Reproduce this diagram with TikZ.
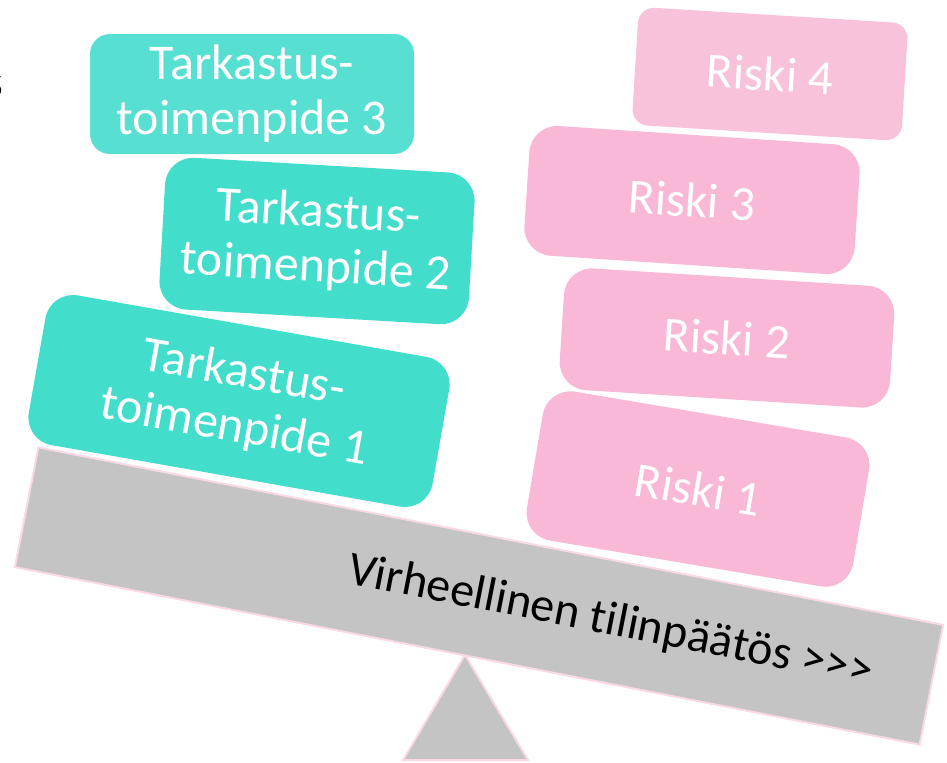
\documentclass[tikz,border=0pt]{standalone}
\usepackage{fontspec}
\setmainfont{Carlito}[Ligatures=NoCommon]
\usetikzlibrary{calc}
\definecolor{tealbox}{HTML}{43DDCC}
\definecolor{tealpale}{HTML}{57E0D1}
\definecolor{riskbox}{HTML}{F9B8D6}
\definecolor{riskpale}{HTML}{F8C2DB}
\definecolor{beamgray}{HTML}{C4C4C4}
\definecolor{beamedge}{HTML}{FAD9E4}

\begin{document}
\begin{tikzpicture}[x=0.5pt, y=-0.5pt,
		measure/.style={fill=tealbox, text=white, rounded corners=14pt, inner sep=0pt, align=center, font=\fontsize{25}{27.5}\selectfont},
		risk/.style={fill=riskbox, text=white, rounded corners=14pt, inner sep=0pt, font=\fontsize{24.5}{27}\selectfont},
		support/.style={fill=beamgray, draw=beamedge, line width=1pt}]
				\useasboundingbox (0,0) rectangle (947,762);
				\draw[support] (465,655) -- (528,760) -- (403,760) -- cycle;
				\node[support, rotate=-11.1, minimum width=461pt, minimum height=61pt, inner sep=0pt] (beam) at (479,596) {};
				\node[rotate=-11.1, font=\fontsize{24}{27}\selectfont, inner sep=0pt] (verdict) at ($(beam.center)!0.29!(beam.east)$) {Virheellinen tilinpäätös >{}>{}>};
				\node[anchor=base east, inner sep=0pt, font=\fontsize{24}{27}\selectfont] (cut) at (4,97) {s};
				\node[measure, fill=tealpale, rounded corners=10pt, minimum width=162pt, minimum height=60pt] (t3) at (252,94) {Tarkastus-\\toimenpide 3};
				\node[measure, rotate=-3.3, minimum width=155pt, minimum height=76pt] (t2) at (317,241) {Tarkastus-\\toimenpide 2};
				\node[measure, rotate=-10, minimum width=205pt, minimum height=76pt] (t1) at (239,401) {Tarkastus-\\toimenpide 1};
				\node[risk, fill=riskpale, rounded corners=8pt, rotate=-3.5, minimum width=135pt, minimum height=59pt] (r4) at (770,74) {Riski 4};
				\node[risk, rotate=-3.8, minimum width=165.5pt, minimum height=65pt] (r3) at (692,200) {Riski 3};
				\node[risk, rotate=-3.6, minimum width=165.5pt, minimum height=61pt] (r2) at (727,338) {Riski 2};
				\node[risk, rotate=-9.6, minimum width=165.5pt, minimum height=75.5pt] (r1) at (698,489) {Riski 1};
			\end{tikzpicture}
\end{document}
